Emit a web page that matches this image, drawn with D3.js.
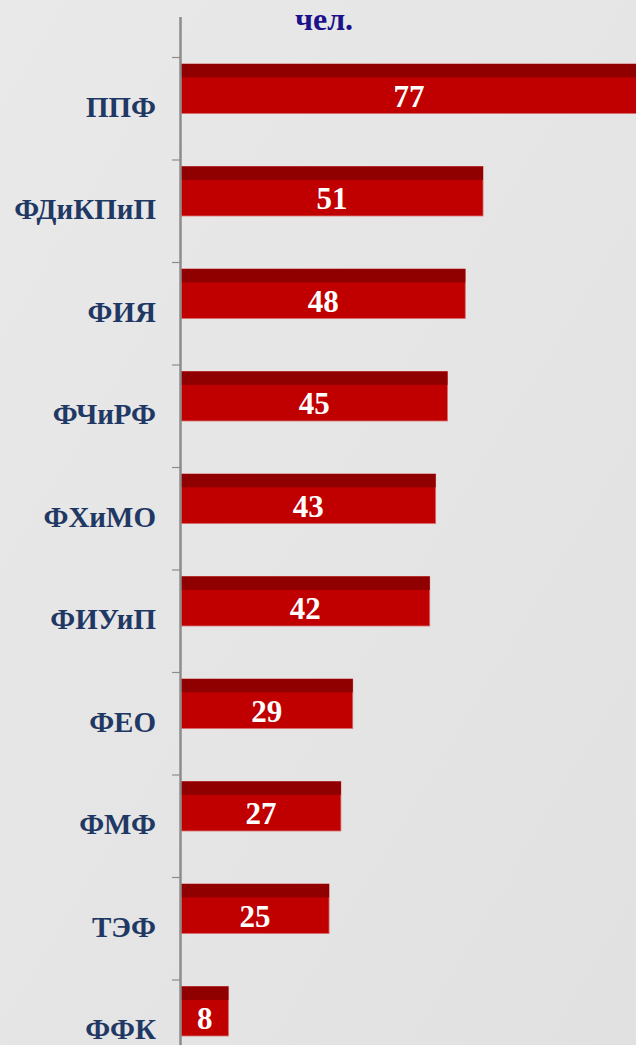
<!DOCTYPE html>
<html>
<head>
<meta charset="utf-8">
<script src="https://cdn.jsdelivr.net/npm/d3@7"></script>
<style>
  html, body { margin: 0; padding: 0; background: #e5e5e5; }
  svg { display: block; }
</style>
</head>
<body>
<div id="chart"></div>
<script>
const faculties = ["ППФ", "ФДиКПиП", "ФИЯ", "ФЧиРФ", "ФХиМО", "ФИУиП", "ФЕО", "ФМФ", "ТЭФ", "ФФК"];
const counts = [77, 51, 48, 45, 43, 42, 29, 27, 25, 8];
const unitLabel = "чел.";

const width = 636, height = 1045;
const serif = "'Liberation Serif', 'DejaVu Serif', serif";

const svg = d3.select("#chart").append("svg")
    .attr("width", width)
    .attr("height", height);

// soft grey background
const defs = svg.append("defs");
const bg = defs.append("linearGradient").attr("id", "bg")
    .attr("x1", 0).attr("y1", 0).attr("x2", 1).attr("y2", 1);
bg.append("stop").attr("offset", "0%").attr("stop-color", "#e9e9e9");
bg.append("stop").attr("offset", "100%").attr("stop-color", "#e1e1e1");
svg.append("rect").attr("width", width).attr("height", height).attr("fill", "url(#bg)");

const data = faculties.map((f, i) => ({ name: f, value: counts[i] }));

// scales
let y = d3.scaleBand().domain(faculties).range([57, 57 + 102.5 * faculties.length]);
let x = d3.scaleLinear().domain([0, 77]).range([181, 637]);

const bw = y.bandwidth();
const barTop = bw * 0.068, barH = bw * 0.483, capH = barH * 0.27;

// bars
let bars = svg.append("g").selectAll("g")
    .data(data)
    .enter().append("g");

bars.append("rect")
    .attr("x", x(0))
    .attr("y", d => y(d.name) + barTop)
    .attr("width", d => x(d.value) - x(0))
    .attr("height", barH)
    .attr("fill", "#c00000")
    .attr("stroke", "#d86a6a")
    .attr("stroke-width", 0.8);

bars.append("rect")
    .attr("x", x(0))
    .attr("y", d => y(d.name) + barTop)
    .attr("width", d => x(d.value) - x(0))
    .attr("height", capH)
    .attr("fill", "#900000");

// value labels
bars.append("text")
    .attr("x", d => (x(0) + x(d.value)) / 2)
    .attr("y", d => y(d.name) + barTop + capH + (barH - capH) / 2)
    .attr("dy", "0.36em")
    .attr("text-anchor", "middle")
    .attr("fill", "#ffffff")
    .style("font-family", serif)
    .style("font-weight", "bold")
    .style("font-size", "31px")
    .text(d => d.value);

// axis line and ticks at band boundaries
svg.append("line")
    .attr("x1", 180.5).attr("x2", 180.5)
    .attr("y1", 17).attr("y2", height)
    .attr("stroke", "#8c8c8c")
    .attr("stroke-width", 2.5);

svg.append("g").selectAll("line")
    .data(faculties)
    .enter().append("line")
    .attr("x1", 172).attr("x2", 180)
    .attr("y1", d => y(d) + 0.5).attr("y2", d => y(d) + 0.5)
    .attr("stroke", "#8c8c8c")
    .attr("stroke-width", 1.2);

// category labels
svg.append("g").selectAll("text")
    .data(faculties)
    .enter().append("text")
    .attr("x", 156)
    .attr("y", d => y(d) + bw / 2 - 2)
    .attr("dy", "0.36em")
    .attr("text-anchor", "end")
    .attr("fill", "#1f3864")
    .style("font-family", serif)
    .style("font-weight", "bold")
    .style("font-size", "29px")
    .text(d => d);

// unit title
svg.append("text")
    .attr("x", 324)
    .attr("y", 30)
    .attr("text-anchor", "middle")
    .attr("fill", "#1c128c")
    .style("font-family", serif)
    .style("font-weight", "bold")
    .style("font-size", "32px")
    .text(unitLabel);
</script>
</body>
</html>
